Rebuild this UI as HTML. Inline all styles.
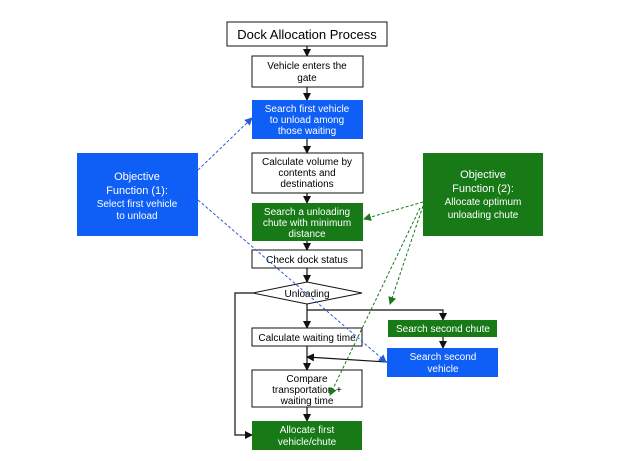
<!DOCTYPE html>
<html><head><style>
body{margin:0;width:627px;height:461px;background:#fff;overflow:hidden}
svg{position:absolute;left:0;top:0}
text{font-family:"Liberation Sans",sans-serif;font-size:10px}
</style></head><body>
<svg width="627" height="461" viewBox="0 0 627 461">
<defs>
<marker id="a" markerWidth="8" markerHeight="8" refX="7" refY="4" orient="auto" markerUnits="userSpaceOnUse"><path d="M0,0 L8,4 L0,8z" fill="#111"/></marker>
<marker id="b" markerWidth="8" markerHeight="8" refX="7" refY="4" orient="auto" markerUnits="userSpaceOnUse"><path d="M0,0 L8,4 L0,8z" fill="#2a5bd7"/></marker>
<marker id="g" markerWidth="8" markerHeight="8" refX="7" refY="4" orient="auto" markerUnits="userSpaceOnUse"><path d="M0,0 L8,4 L0,8z" fill="#1a7a1a"/></marker>
</defs>
<g stroke="#111" stroke-width="1.2" fill="none">
<line x1="307" y1="46" x2="307" y2="56" marker-end="url(#a)"/>
<line x1="307" y1="87" x2="307" y2="100" marker-end="url(#a)"/>
<line x1="307" y1="139" x2="307" y2="153" marker-end="url(#a)"/>
<line x1="307" y1="193" x2="307" y2="203" marker-end="url(#a)"/>
<line x1="307" y1="241" x2="307" y2="250" marker-end="url(#a)"/>
<line x1="307" y1="268" x2="307" y2="282" marker-end="url(#a)"/>
<line x1="307" y1="304" x2="307" y2="328" marker-end="url(#a)"/>
<polyline points="307,310 443,310 443,320" marker-end="url(#a)"/>
<line x1="443" y1="337" x2="443" y2="348" marker-end="url(#a)"/>
<line x1="307" y1="346" x2="307" y2="370" marker-end="url(#a)"/>
<line x1="387" y1="362" x2="307" y2="357" marker-end="url(#a)"/>
<line x1="307" y1="407" x2="307" y2="421" marker-end="url(#a)"/>
<polyline points="253,293 235,293 235,435 252,435" marker-end="url(#a)"/>
</g>
<rect x="227" y="22" width="160" height="24" fill="#fff" stroke="#111"/>
<text x="307" y="39" text-anchor="middle" style="font-size:13px">Dock Allocation Process</text>
<rect x="252" y="56" width="111" height="31" fill="#fff" stroke="#111"/>
<text x="307" y="69" text-anchor="middle">Vehicle enters the</text><text x="307" y="81" text-anchor="middle">gate</text>
<rect x="252" y="100" width="111" height="39" fill="#0f5ef5"/>
<g fill="#fff" text-anchor="middle"><text x="307" y="112">Search first vehicle</text><text x="307" y="123">to unload among</text><text x="307" y="134">those waiting</text></g>
<rect x="252" y="153" width="111" height="40" fill="#fff" stroke="#111"/>
<text x="307" y="165" text-anchor="middle">Calculate volume by</text><text x="307" y="176" text-anchor="middle">contents and</text><text x="307" y="187" text-anchor="middle">destinations</text>
<rect x="252" y="203" width="111" height="38" fill="#177a17"/>
<g fill="#fff" text-anchor="middle"><text x="307" y="215">Search a unloading</text><text x="307" y="226">chute with minimum</text><text x="307" y="237">distance</text></g>
<rect x="252" y="250" width="110" height="18" fill="#fff" stroke="#111"/>
<text x="307" y="263" text-anchor="middle">Check dock status</text>
<polygon points="253,293 307,282 362,293 307,304" fill="#fff" stroke="#111"/>
<text x="307" y="297" text-anchor="middle">Unloading</text>
<rect x="252" y="328" width="110" height="18" fill="#fff" stroke="#111"/>
<text x="307" y="341" text-anchor="middle">Calculate waiting time</text>
<rect x="252" y="370" width="110" height="37" fill="#fff" stroke="#111"/>
<text x="307" y="382" text-anchor="middle">Compare</text><text x="307" y="393" text-anchor="middle">transportation +</text><text x="307" y="404" text-anchor="middle">waiting time</text>
<rect x="252" y="421" width="110" height="29" fill="#177a17"/>
<g fill="#fff" text-anchor="middle"><text x="307" y="433">Allocate first</text><text x="307" y="445">vehicle/chute</text></g>
<rect x="388" y="320" width="109" height="17" fill="#177a17"/>
<text x="443" y="332" fill="#fff" text-anchor="middle">Search second chute</text>
<rect x="387" y="348" width="111" height="29" fill="#0f5ef5"/>
<g fill="#fff" text-anchor="middle"><text x="443" y="360">Search second</text><text x="443" y="372">vehicle</text></g>
<rect x="77" y="153" width="121" height="83" fill="#0f5ef5"/>
<g fill="#fff" text-anchor="middle"><text x="137" y="180" style="font-size:11px">Objective</text><text x="137" y="194" style="font-size:11px">Function (1):</text><text x="137" y="207">Select first vehicle</text><text x="137" y="219">to unload</text></g>
<rect x="423" y="153" width="120" height="83" fill="#177a17"/>
<g fill="#fff" text-anchor="middle"><text x="483" y="178" style="font-size:11px">Objective</text><text x="483" y="192" style="font-size:11px">Function (2):</text><text x="483" y="205">Allocate optimum</text><text x="483" y="218">unloading chute</text></g>
<g fill="none" stroke-dasharray="3,2" stroke-width="1">
<line x1="198" y1="170" x2="252" y2="118" stroke="#2a5bd7" marker-end="url(#b)"/>
<line x1="198" y1="200" x2="386" y2="362" stroke="#2a5bd7" marker-end="url(#b)"/>
<line x1="423" y1="202" x2="364" y2="219" stroke="#1a7a1a" marker-end="url(#g)"/>
<line x1="423" y1="206" x2="390" y2="304" stroke="#1a7a1a" marker-end="url(#g)"/>
<line x1="420" y1="208" x2="330" y2="395" stroke="#1a7a1a" marker-end="url(#g)"/>
</g>
</svg>
</body></html>
